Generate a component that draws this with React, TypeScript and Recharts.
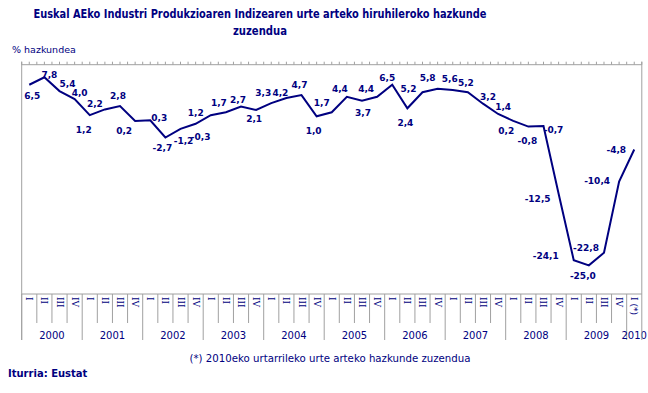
import React from 'react';
import { LineChart, Line, XAxis, YAxis, LabelList } from 'recharts';

const years = ['2000', '2001', '2002', '2003', '2004', '2005', '2006', '2007', '2008', '2009', '2010'];
const quarters = ['I', 'II', 'III', 'IV'];
const values = [
  6.5, 7.8, 5.4, 4.0,
  1.2, 2.2, 2.8, 0.2,
  0.3, -2.7, -1.2, -0.3,
  1.2, 1.7, 2.7, 2.1,
  3.3, 4.2, 4.7, 1.0,
  1.7, 4.4, 3.7, 4.4,
  6.5, 2.4, 5.2, 5.8,
  5.6, 5.2, 3.2, 1.4,
  0.2, -0.8, -0.7, -12.5,
  -24.1, -25.0, -22.8, -10.4,
  -4.8,
];
const lastQuarterNote = '(*)';
const title1 = 'Euskal AEko Industri Produkzioaren Indizearen urte arteko hiruhileroko hazkunde';
const title2 = 'zuzendua';
const yTitle = '% hazkundea';
const footnote = '(*) 2010eko urtarrileko urte arteko hazkunde zuzendua';
const source = 'Iturria: Eustat';

// label placement offsets (dx, dy) relative to each point
const labelOffsets: [number, number][] = [
  [3, 11], [5, -2], [8, -7], [5, -6],
  [-6, 15], [-10, -5], [-2, -10], [-11, 10],
  [9, -2], [-3, 10], [3, 12], [5, 13],
  [-15, -2], [-7, -9], [-3, -7], [-2, 9],
  [-8, -10], [-6, -5], [-2, -10], [-3, 15],
  [-10, -9], [-7, -8], [1, 12], [-11, -8],
  [-5, -7], [-2, 15], [-14, -3], [-10, -11],
  [-3, -11], [-2, -9], [5, -7], [5, -7],
  [-7, 10], [-1, 14], [10, 4], [-21, 5],
  [-28, -4], [-6, 11], [-18, -5], [-22, -1],
  [-18, 0],
];

const data = values.map((v, i) => ({
  idx: i,
  label: `${years[Math.floor(i / 4)]} ${quarters[i % 4]}`,
  value: v,
}));

const W = 648;
const H = 393;
const PLOT_L = 21.7;
const PLOT_R = 641.8;
const PLOT_T = 64.7;
const PLOT_B = 294;
const AXIS_H = 46;
const CELL = (PLOT_R - PLOT_L) / values.length;
const NAVY = '#000080';
const GRID = '#a0a0a0';
const FONT = '"DejaVu Sans", Verdana, sans-serif';

const QuarterTick = (props: any) => {
  const { x, payload } = props;
  const i = payload.value as number;
  const q = i % 4;
  const yi = Math.floor(i / 4);
  const sepX = x - CELL / 2;
  const isLast = i === values.length - 1;
  const qText = quarters[q] + (isLast ? '  ' + lastQuarterNote : '');
  let yearEl = null;
  if (isLast) {
    yearEl = (
      <text x={x} y={335} textAnchor="middle" dominantBaseline="central" fill={NAVY} fontSize={10} fontFamily={FONT}>
        {years[yi]}
      </text>
    );
  } else if (q === 1) {
    yearEl = (
      <text x={x + CELL / 2} y={335} textAnchor="middle" dominantBaseline="central" fill={NAVY} fontSize={10} fontFamily={FONT}>
        {years[yi]}
      </text>
    );
  }
  return (
    <g>
      <line x1={sepX} x2={sepX} y1={PLOT_B} y2={q === 0 ? 340 : 323} stroke={GRID} strokeWidth={1} />
      <text
        x={x}
        y={297}
        transform={`rotate(90 ${x} 297)`}
        textAnchor="start"
        dominantBaseline="central"
        fill={NAVY}
        fontSize={9}
        fontFamily={'"DejaVu Serif", serif'}
      >
        {qText}
      </text>
      {yearEl}
    </g>
  );
};

const DataLabel = (props: any) => {
  const { x, y, value, index } = props;
  const off = labelOffsets[index] || [0, -8];
  return (
    <text
      x={x + off[0]}
      y={y + off[1]}
      textAnchor="middle"
      dominantBaseline="central"
      fill={NAVY}
      fontSize={9}
      fontWeight="bold"
      fontFamily={FONT}
    >
      {Number(value).toFixed(1).replace('.', ',')}
    </text>
  );
};

const topTicks: number[] = [];
for (let k = 0; k <= values.length * 2; k++) topTicks.push(PLOT_L + (k * CELL) / 2);

export default function App() {
  return (
    <div style={{ position: 'absolute', left: 0, top: 0, width: W, height: H, background: '#fff' }}>
      <div style={{ position: 'absolute', left: 0, top: 0 }}>
        <LineChart
          width={W}
          height={H}
          data={data}
          margin={{ top: PLOT_T, left: PLOT_L, right: W - PLOT_R, bottom: H - PLOT_B - AXIS_H }}
        >
          <XAxis
            type="number"
            dataKey="idx"
            domain={[-0.5, values.length - 0.5]}
            ticks={data.map((d) => d.idx)}
            interval={0}
            height={AXIS_H}
            tickLine={false}
            axisLine={{ stroke: GRID, strokeWidth: 1 }}
            tick={<QuarterTick />}
            allowDataOverflow
          />
          <YAxis hide domain={[-30, 10]} type="number" allowDataOverflow />
          <Line
            type="linear"
            dataKey="value"
            stroke={NAVY}
            strokeWidth={2}
            dot={false}
            isAnimationActive={false}
          >
            <LabelList dataKey="value" content={<DataLabel />} />
          </Line>
        </LineChart>
      </div>
      <svg
        width={W}
        height={H}
        style={{ position: 'absolute', left: 0, top: 0, pointerEvents: 'none' }}
      >
        <text x={260} y={14} textAnchor="middle" dominantBaseline="central" fill={NAVY} fontSize={12} fontWeight="bold" fontFamily={FONT} textLength={453} lengthAdjust="spacingAndGlyphs">
          {title1}
        </text>
        <text x={260} y={31} textAnchor="middle" dominantBaseline="central" fill={NAVY} fontSize={12} fontWeight="bold" fontFamily={FONT} textLength={54} lengthAdjust="spacingAndGlyphs">
          {title2}
        </text>
        <text x={12} y={49} dominantBaseline="central" fill={NAVY} fontSize={9.5} fontFamily={FONT}>
          {yTitle}
        </text>
        <line x1={PLOT_L} x2={PLOT_R} y1={PLOT_T} y2={PLOT_T} stroke={GRID} strokeWidth={1} />
        {topTicks.map((tx, k) => (
          <line key={k} x1={tx} x2={tx} y1={PLOT_T - 3} y2={PLOT_T} stroke={GRID} strokeWidth={1} />
        ))}
        <line x1={PLOT_L} x2={PLOT_L} y1={PLOT_T - 3} y2={340} stroke={GRID} strokeWidth={1} />
        <line x1={PLOT_R} x2={PLOT_R} y1={PLOT_T - 3} y2={340} stroke={GRID} strokeWidth={1} />
        <text x={330} y={358} textAnchor="middle" dominantBaseline="central" fill={NAVY} fontSize={10.2} fontFamily={FONT}>
          {footnote}
        </text>
        <text x={8} y={373} dominantBaseline="central" fill={NAVY} fontSize={10} fontWeight="bold" fontFamily={FONT}>
          {source}
        </text>
      </svg>
    </div>
  );
}
